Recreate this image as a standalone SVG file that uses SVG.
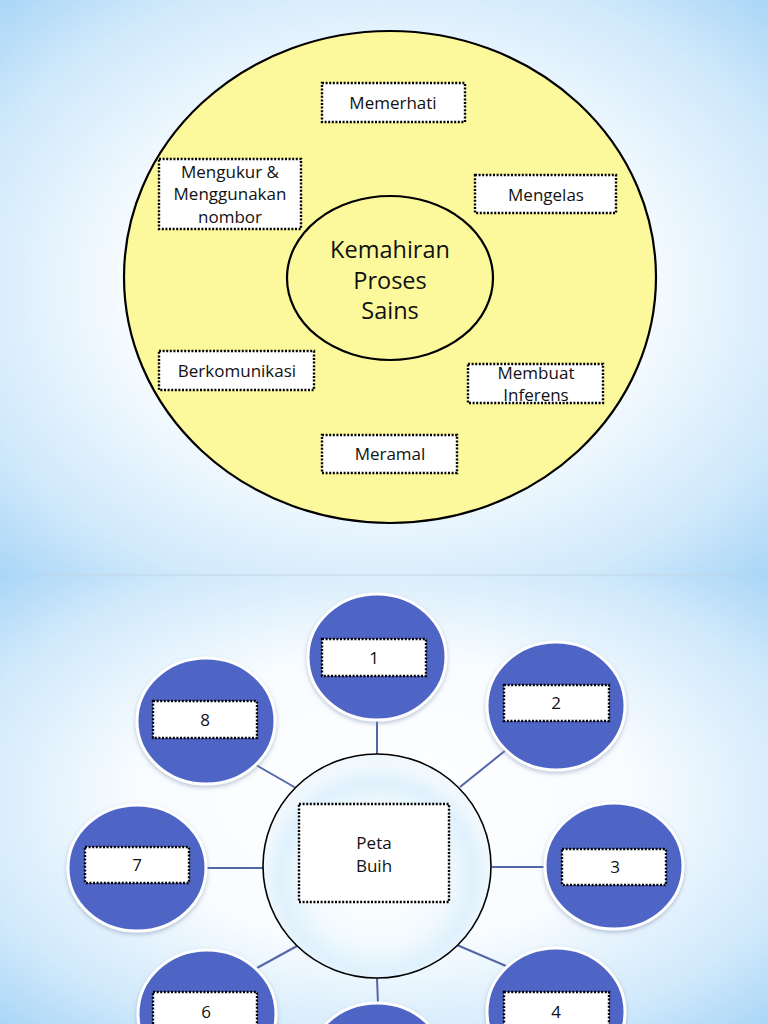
<svg xmlns="http://www.w3.org/2000/svg" width="768" height="1024" viewBox="0 0 768 1024">
<defs>
<radialGradient id="bg" cx="0.5" cy="0.5" r="0.72">
<stop offset="0" stop-color="#ffffff"/>
<stop offset="0.45" stop-color="#f8fcff"/>
<stop offset="0.78" stop-color="#d0e9fb"/>
<stop offset="1" stop-color="#a6d4f6"/>
</radialGradient>
<radialGradient id="hub" cx="0.5" cy="0.55" r="0.5">
<stop offset="0" stop-color="#ffffff"/>
<stop offset="0.6" stop-color="#f3fafe"/>
<stop offset="0.85" stop-color="#dff1fc"/>
<stop offset="1" stop-color="#f0f8fe"/>
</radialGradient>
<filter id="sh" x="-20%" y="-20%" width="140%" height="140%">
<feDropShadow dx="0" dy="2" stdDeviation="2" flood-color="#7a8fb0" flood-opacity="0.5"/>
</filter>
</defs>
<style>
.box{fill:#ffffff;stroke:#000000;stroke-width:2.4;stroke-dasharray:2 1.6}
.t{font-family:"Open Sans","Noto Sans","Liberation Sans",sans-serif;font-size:17px;fill:#111111;text-anchor:middle}
.big{font-family:"Open Sans","Noto Sans","Liberation Sans",sans-serif;font-size:23.5px;fill:#111111;text-anchor:middle}
.bub{fill:#4f65c6;stroke:#ffffff;stroke-width:3;filter:url(#sh)}
.con line{stroke:#5566a8;stroke-width:2}
</style>
<rect x="0" y="0" width="768" height="576" fill="url(#bg)"/>
<rect x="0" y="576" width="768" height="448" fill="url(#bg)"/>
<line x1="40" y1="575" x2="730" y2="575" stroke="#c4d6e3" stroke-width="1.2"/>

<g id="outer-circle">
<ellipse cx="390" cy="277" rx="266" ry="246" fill="#fcf89c" stroke="#000000" stroke-width="2.2"/>
</g>
<g id="kemahiran">
<ellipse cx="390" cy="278" rx="103" ry="82" fill="#fcf89c" stroke="#000000" stroke-width="2.2"/>
<text class="big" x="390" y="258">Kemahiran</text>
<text class="big" x="390" y="289">Proses</text>
<text class="big" x="390" y="319">Sains</text>
</g>
<g id="memerhati">
<rect class="box" x="322" y="83" width="143" height="39"/>
<text class="t" x="393" y="109">Memerhati</text>
</g>
<g id="mengukur">
<rect class="box" x="159" y="159" width="142" height="70"/>
<text class="t" x="230" y="178">Mengukur &amp;</text>
<text class="t" x="230" y="200">Menggunakan</text>
<text class="t" x="230" y="223">nombor</text>
</g>
<g id="mengelas">
<rect class="box" x="475" y="175" width="141" height="38"/>
<text class="t" x="546" y="201">Mengelas</text>
</g>
<g id="berkomunikasi">
<rect class="box" x="159" y="351" width="155" height="39"/>
<text class="t" x="237" y="377">Berkomunikasi</text>
</g>
<g id="membuat-inferens">
<rect class="box" x="468" y="364" width="135" height="39"/>
<text class="t" x="536" y="379">Membuat</text>
<text class="t" x="536" y="401">Inferens</text>
</g>
<g id="meramal">
<rect class="box" x="322" y="435" width="135" height="38"/>
<text class="t" x="390" y="460">Meramal</text>
</g>

<g id="connectors" class="con">
<line x1="377" y1="720" x2="377" y2="755"/>
<line x1="506" y1="750" x2="460" y2="787"/>
<line x1="256" y1="765" x2="296" y2="788"/>
<line x1="206" y1="868" x2="263" y2="868"/>
<line x1="492" y1="867" x2="545" y2="867"/>
<line x1="257" y1="968" x2="297" y2="946"/>
<line x1="457" y1="945" x2="506" y2="966"/>
<line x1="377" y1="978" x2="378" y2="1004"/>
</g>

<g id="peta-buih">
<ellipse cx="377" cy="866" rx="114" ry="112" fill="url(#hub)" stroke="#000000" stroke-width="1.6"/>
<rect class="box" x="299" y="804" width="150" height="98"/>
<text class="t" x="374" y="849">Peta</text>
<text class="t" x="374" y="872">Buih</text>
</g>
<g id="n1">
<ellipse class="bub" cx="377" cy="657" rx="69" ry="63"/>
<rect class="box" x="322" y="639" width="104" height="37"/>
<text class="t" x="374" y="664">1</text>
</g>
<g id="n2">
<ellipse class="bub" cx="556" cy="706" rx="69" ry="64"/>
<rect class="box" x="504" y="685" width="105" height="36"/>
<text class="t" x="556" y="709">2</text>
</g>
<g id="n3">
<ellipse class="bub" cx="614" cy="866" rx="69" ry="63"/>
<rect class="box" x="562" y="849" width="104" height="36"/>
<text class="t" x="615" y="873">3</text>
</g>
<g id="n4">
<ellipse class="bub" cx="556" cy="1012" rx="69" ry="64"/>
<rect class="box" x="504" y="992" width="105" height="38"/>
<text class="t" x="556" y="1018">4</text>
</g>
<g id="n5">
<ellipse class="bub" cx="377" cy="1067" rx="69" ry="64"/>
</g>
<g id="n6">
<ellipse class="bub" cx="207" cy="1014" rx="69" ry="64"/>
<rect class="box" x="153" y="992" width="104" height="38"/>
<text class="t" x="206" y="1018">6</text>
</g>
<g id="n7">
<ellipse class="bub" cx="137" cy="868" rx="69" ry="63"/>
<rect class="box" x="85" y="847" width="104" height="36"/>
<text class="t" x="137" y="871">7</text>
</g>
<g id="n8">
<ellipse class="bub" cx="206" cy="721" rx="69" ry="63"/>
<rect class="box" x="153" y="701" width="104" height="37"/>
<text class="t" x="205" y="726">8</text>
</g>
</svg>
